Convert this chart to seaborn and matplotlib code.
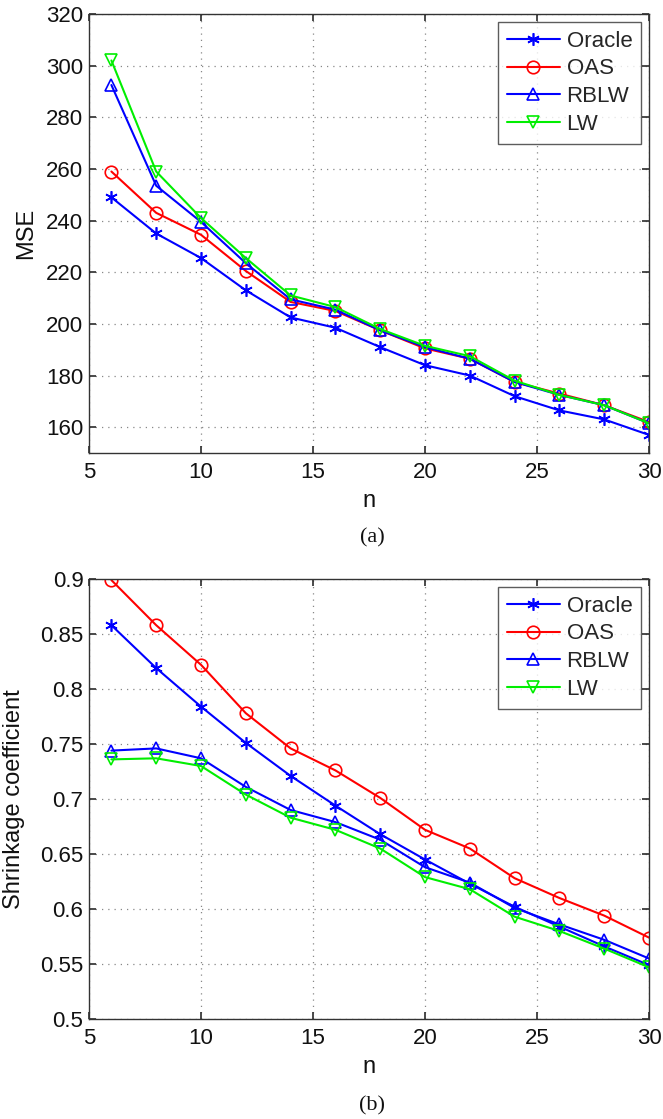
import matplotlib
matplotlib.use("Agg")
import matplotlib.pyplot as plt
import seaborn as sns
import pandas as pd
import numpy as np

n_vals = [6, 8, 10, 12, 14, 16, 18, 20, 22, 24, 26, 28, 30]
series_names = ["Oracle", "OAS", "RBLW", "LW"]

mse_oracle = [249, 235, 225.5, 213, 202.5, 198.5, 191, 184, 180, 172, 166.5, 163, 157]
mse_oas = [259, 243, 234.5, 220.5, 208.5, 205, 197.5, 190.5, 186.5, 177.5, 173, 168.5, 162]
mse_rblw = [292.5, 253.5, 239.5, 223.5, 209.5, 205.5, 197.5, 191, 186.5, 177.5, 172.5, 168.5, 161.5]
mse_lw = [302, 259, 241, 225.5, 211, 206.5, 198, 191.5, 187.5, 178, 172.5, 168.5, 161.5]

shr_oracle = [0.858, 0.819, 0.784, 0.751, 0.721, 0.694, 0.668, 0.645, 0.623, 0.602, 0.584, 0.566, 0.549]
shr_oas = [0.899, 0.858, 0.822, 0.778, 0.746, 0.726, 0.701, 0.672, 0.655, 0.628, 0.610, 0.594, 0.574]
shr_rblw = [0.744, 0.746, 0.737, 0.711, 0.690, 0.679, 0.663, 0.638, 0.624, 0.601, 0.586, 0.572, 0.555]
shr_lw = [0.736, 0.737, 0.730, 0.704, 0.683, 0.672, 0.655, 0.629, 0.618, 0.593, 0.580, 0.564, 0.547]

mse_ticks = [160, 180, 200, 220, 240, 260, 280, 300, 320]
shr_ticks = [0.5, 0.55, 0.6, 0.65, 0.7, 0.75, 0.8, 0.85, 0.9]
shr_ticklabels = ["0.5", "0.55", "0.6", "0.65", "0.7", "0.75", "0.8", "0.85", "0.9"]
x_ticks = [5, 10, 15, 20, 25, 30]

sns.set_theme(style="white")
plt.rcParams['font.family'] = ['Liberation Sans', 'DejaVu Sans']

colors = {"Oracle": "#0000ff", "OAS": "#ff0000", "RBLW": "#0000ff", "LW": "#00ee00"}
markers = {"Oracle": (6, 2, 0), "OAS": "o", "RBLW": "^", "LW": "v"}

fig = plt.figure(figsize=(6.63, 11.19), dpi=100)
L, R = 89, 649
ax1 = fig.add_axes([L/663, 1 - 453/1119, (R - L)/663, 439/1119])
ax2 = fig.add_axes([L/663, 1 - 1019/1119, (R - L)/663, 440/1119])


def draw(ax, data, ylabel, ylim, yticks, yticklabels, ylab_x):
    for name, vals in zip(series_names, data):
        df = pd.DataFrame({"n": n_vals, "v": vals})
        sns.lineplot(data=df, x="n", y="v", ax=ax, color=colors[name],
                     marker=markers[name], markersize=9, mfc="none",
                     mec=colors[name], mew=1.2, lw=1.5, label=name)
    ax.set_xlim(5, 30)
    ax.set_ylim(*ylim)
    ax.set_xticks(x_ticks)
    ax.set_yticks(yticks)
    ax.set_yticklabels(yticklabels)
    ax.tick_params(axis="both", labelsize=16, direction="in", length=5,
                   left=True, bottom=True, right=True, top=True, color="#333333",
                   labelcolor="#111111")
    ax.tick_params(axis="x", pad=6.5)
    ax.tick_params(axis="y", pad=4)
    ax.grid(True, linestyle=(0, (1, 4)), color="#888888", lw=0.9)
    for s in ax.spines.values():
        s.set_color("#333333")
        s.set_linewidth(1.0)
    ax.set_xlabel("n", fontsize=17, labelpad=5, color="#111111")
    ax.set_ylabel(ylabel, fontsize=17, color="#111111")
    ax.yaxis.set_label_coords(ylab_x, 0.5)
    leg = ax.legend(loc="upper right", fontsize=16, frameon=True, fancybox=False,
                    handlelength=2.4, borderpad=0.4, labelspacing=0.3,
                    handletextpad=0.3, borderaxespad=0.35)
    leg.get_frame().set_edgecolor("#333333")
    leg.get_frame().set_linewidth(1.0)


draw(ax1, [mse_oracle, mse_oas, mse_rblw, mse_lw], "MSE", (150, 320), mse_ticks,
     [str(t) for t in mse_ticks], (37 - L) / (R - L))
draw(ax2, [shr_oracle, shr_oas, shr_rblw, shr_lw], "Shrinkage coefficient", (0.5, 0.9),
     shr_ticks, shr_ticklabels, (25 - L) / (R - L))

fig.text(372/663, 1 - 538/1119, "(a)", ha="center", va="center", fontsize=16,
         family="Liberation Serif", color="#111111")
fig.text(372/663, 1 - 1106/1119, "(b)", ha="center", va="center", fontsize=16,
         family="Liberation Serif", color="#111111")

fig.savefig("out.png", dpi=100)
